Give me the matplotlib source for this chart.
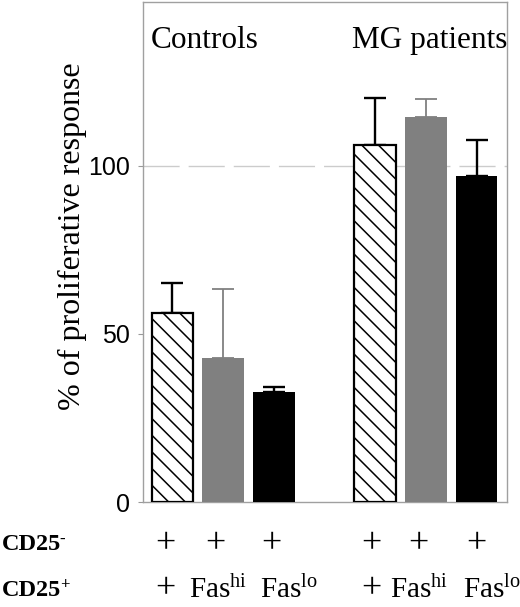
import matplotlib
matplotlib.use("Agg")
import matplotlib.pyplot as plt
import matplotlib.transforms as mtransforms
import numpy as np

# ---- data ----
groups = ["Controls", "MG patients"]
values = [56.2, 42.8, 32.7, 106.2, 114.5, 97.1]
errors = [9.0, 20.7, 1.5, 14.0, 5.4, 10.5]
row_names = ["CD25", "CD25"]
row_sups = ["-", "+"]
row1_labels = ["+", "+", "+", "+", "+", "+"]
row2_labels = ["+", r"Fas$^{\mathrm{hi}}$", r"Fas$^{\mathrm{lo}}$",
               "+", r"Fas$^{\mathrm{hi}}$", r"Fas$^{\mathrm{lo}}$"]
yticks = [0, 50, 100]
reference_level = 100

plt.rcParams['font.family'] = ['Liberation Serif', 'DejaVu Serif']
plt.rcParams['mathtext.fontset'] = 'custom'
plt.rcParams['mathtext.rm'] = 'Liberation Serif'
plt.rcParams['mathtext.it'] = 'Liberation Serif:italic'
plt.rcParams['mathtext.bf'] = 'Liberation Serif:bold'
plt.rcParams['hatch.linewidth'] = 1.1

W, H = 520, 607
fig = plt.figure(figsize=(W / 100, H / 100), dpi=100)
ax = fig.add_axes([143 / W, 1 - 502 / H, 364 / W, 500 / H])

x = np.array([0, 1, 2, 4, 5, 6], dtype=float)
width = 0.82
styles = ['hatch', 'gray', 'black'] * 2
gray = '#808080'

for xi, v, st in zip(x, values, styles):
    if st == 'hatch':
        ax.bar(xi, v, width=width, facecolor='white', edgecolor='black',
               linewidth=1.6, hatch='\\\\', zorder=3)
    elif st == 'gray':
        ax.bar(xi, v, width=width, color=gray, linewidth=0, zorder=3)
    else:
        ax.bar(xi, v, width=width, color='black', linewidth=0, zorder=3)

for xi, v, e, st in zip(x, values, errors, styles):
    col = gray if st == 'gray' else 'black'
    lw = 1.3 if st == 'gray' else 1.7
    ax.errorbar([xi], [v], yerr=[[0], [e]], fmt='none', ecolor=col,
                elinewidth=lw, capthick=lw, capsize=8, zorder=2)

ax.axhline(reference_level, color='#cccccc', lw=1.0, dashes=(26, 6.5), zorder=1)

ax.set_xlim(-0.58, 6.6)
ax.set_ylim(0, 148.8)
ax.set_xticks([])
ax.set_yticks(yticks)
ax.set_yticklabels([str(t) for t in yticks], fontfamily='Liberation Sans', fontsize=18)
ax.tick_params(axis='y', length=3.5, width=0.8, color='#999999', pad=6)
for sp in ax.spines.values():
    sp.set_color('#a0a0a0')
    sp.set_linewidth(1.0)

fig.text(72 / W, 1 - 236 / H, "% of proliferative response", rotation=90,
         ha='center', va='center', fontsize=23)

ax.text(0.022, 0.908, groups[0], transform=ax.transAxes, fontsize=22.5,
        ha='left', va='baseline')
ax.text(0.574, 0.908, groups[1], transform=ax.transAxes, fontsize=22.5,
        ha='left', va='baseline')

trans = mtransforms.blended_transform_factory(ax.transData, fig.transFigure)
row1_y = 1 - 545 / H
row2_y = 1 - 590 / H
for ry, name, sup in zip([row1_y, row2_y], row_names, row_sups):
    t = fig.text(2 / W, ry, name, fontsize=17.5, fontweight='bold',
                 ha='left', va='center')
    ax.annotate(sup, xy=(1.0, 1.0), xycoords=t, xytext=(-1.0, 2),
                textcoords='offset points', fontsize=12, fontweight='bold',
                ha='left', va='top', annotation_clip=False)

row1_off = [-0.13, -0.16, -0.04, -0.07, -0.14, 0.0]
for xi, lab, o in zip(x, row1_labels, row1_off):
    ax.text(xi + o, row1_y, lab, transform=trans, fontsize=26,
            ha='center', va='center')
row2_off = [-0.13, -0.1, 0.3, -0.07, -0.14, 0.3]
for xi, lab, o in zip(x, row2_labels, row2_off):
    ax.text(xi + o, row2_y, lab, transform=trans,
            fontsize=26 if lab == "+" else 21, ha='center', va='center')

fig.savefig("out.png", dpi=100)
